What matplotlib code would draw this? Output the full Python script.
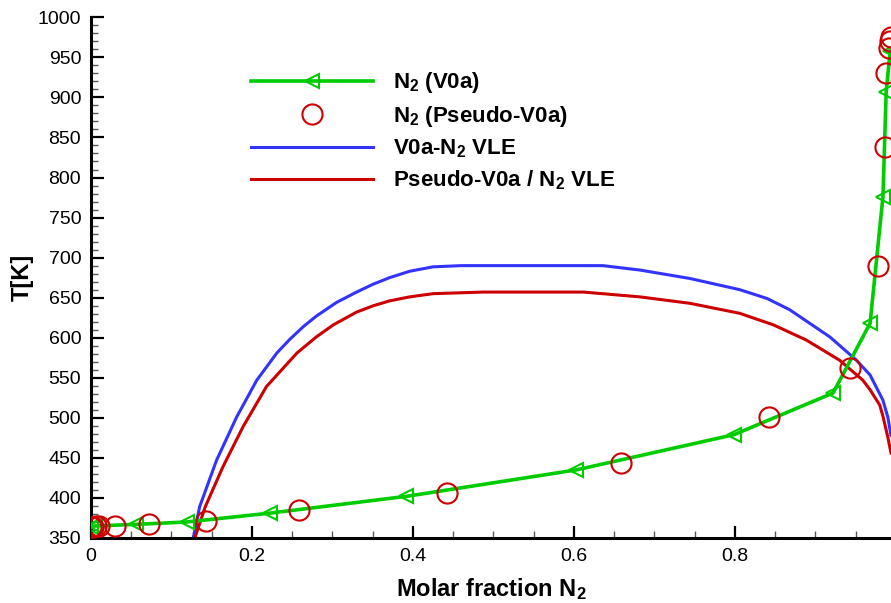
import matplotlib
matplotlib.use("Agg")
import matplotlib.pyplot as plt
from matplotlib.ticker import MultipleLocator

plt.rcParams['font.family'] = ['Liberation Sans', 'DejaVu Sans']
plt.rcParams['mathtext.default'] = 'regular'

# N2 (V0a) - green line with triangles
v0a_x = [0.0, 0.005, 0.056, 0.119, 0.222, 0.392, 0.603, 0.799, 0.922, 0.968, 0.984, 0.988, 0.993]
v0a_y = [364, 365, 367, 370, 381, 402, 435, 479, 531, 618, 776, 907, 958]

# N2 (Pseudo-V0a) - red circles
pseudo_x = [0.0, 0.003, 0.006, 0.010, 0.030, 0.072, 0.143, 0.259, 0.442, 0.659,
            0.843, 0.943, 0.978, 0.986, 0.988, 0.992, 0.993, 0.994]
pseudo_y = [364, 364, 364.5, 365, 365.5, 367, 371, 385, 406, 444,
            501, 562, 690, 838, 931, 962, 970, 976]

# V0a-N2 VLE envelope
vle_x = [0.127, 0.135, 0.156, 0.181, 0.206, 0.231, 0.247, 0.264, 0.280, 0.305, 0.330,
         0.351, 0.371, 0.396, 0.425, 0.46, 0.5, 0.636, 0.682, 0.744, 0.806, 0.840,
         0.868, 0.918, 0.951, 0.968, 0.984, 0.990, 0.994]
vle_y = [350, 389, 447, 501, 547, 581, 598, 614, 627, 644, 657,
         667, 675, 683, 688.5, 690, 690, 690, 684.5, 674, 660, 649,
         635, 601, 572, 553.5, 522, 501, 478]

# Pseudo-V0a / N2 VLE envelope
pvle_x = [0.129, 0.142, 0.164, 0.189, 0.218, 0.256, 0.280, 0.301, 0.330, 0.351, 0.371,
          0.396, 0.425, 0.487, 0.612, 0.682, 0.744, 0.806, 0.848, 0.889, 0.930, 0.959,
          0.968, 0.980, 0.984, 0.990, 0.994]
pvle_y = [350, 389, 439, 489, 539, 581, 601, 616, 632, 640, 646,
          651, 655, 657, 657, 651, 643, 630.5, 616, 597, 572, 547,
          535, 516, 502, 476, 456]

green = '#00cc00'
blue = '#3333ff'
red = '#cc0000'

fig = plt.figure(figsize=(8.91, 6.03), dpi=100)
ax = fig.add_axes([0.1021, 0.1078, 0.8979, 0.8635])

ax.plot(vle_x, vle_y, color=blue, lw=2.2, label='V0a-N$_2$ VLE', zorder=2)
ax.plot(pvle_x, pvle_y, color=red, lw=2.2, label='Pseudo-V0a / N$_2$ VLE', zorder=2)
ax.plot(v0a_x, v0a_y, color=green, lw=2.6, marker='<', ms=10, mfc='none',
        mec=green, mew=1.5, label='N$_2$ (V0a)', zorder=3)
ax.plot(pseudo_x, pseudo_y, ls='none', marker='o', ms=14.5, mfc='none',
        mec=red, mew=1.5, label='N$_2$ (Pseudo-V0a)', zorder=4)

ax.set_xlim(0, 0.994)
ax.set_ylim(350, 1000)
ax.xaxis.set_minor_locator(MultipleLocator(0.05))
ax.yaxis.set_major_locator(MultipleLocator(50))
ax.yaxis.set_minor_locator(MultipleLocator(10))
ax.set_xticks([0, 0.2, 0.4, 0.6, 0.8])
ax.set_xticklabels(['0', '0.2', '0.4', '0.6', '0.8'])

for s in ['top', 'right']:
    ax.spines[s].set_visible(False)
for s in ['left', 'bottom']:
    ax.spines[s].set_linewidth(2.2)

ax.tick_params(which='major', direction='in', length=9, width=1.6, labelsize=14, pad=7)
ax.tick_params(which='minor', direction='in', length=5, width=1, color='0.35')

ax.set_xlabel('Molar fraction N$_2$', fontsize=17, fontweight='bold', labelpad=8)
ax.set_ylabel('T[K]', fontsize=17, fontweight='bold', labelpad=3)

handles, labels = ax.get_legend_handles_labels()
order = [2, 3, 0, 1]
ax.legend([handles[i] for i in order], [labels[i] for i in order],
          loc='upper left', bbox_to_anchor=(0.2, 0.898), frameon=False,
          handlelength=5.5, handletextpad=0.9, labelspacing=0.38,
          borderpad=0, borderaxespad=0, numpoints=1,
          prop={'size': 16, 'weight': 'bold'})

fig.savefig('out.png', dpi=100)
